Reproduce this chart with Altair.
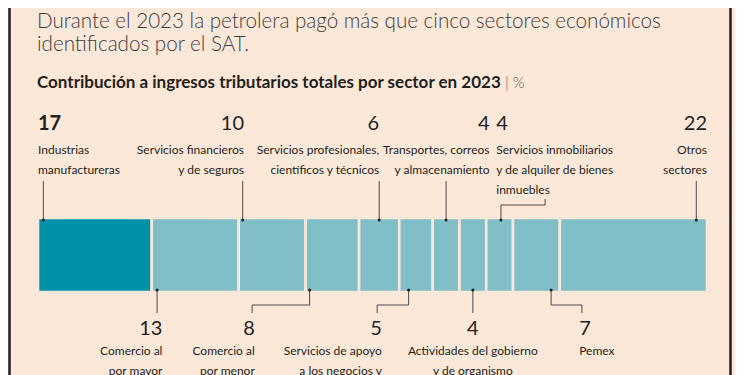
import altair as alt
import pandas as pd
import numpy as np

# ---------------- data ----------------
sectors = [
    "Industrias manufactureras",
    "Comercio al por mayor",
    "Servicios financieros y de seguros",
    "Comercio al por menor",
    "Servicios profesionales, científicos y técnicos",
    "Servicios de apoyo a los negocios y",
    "Transportes, correos y almacenamiento",
    "Actividades del gobierno y de organismo",
    "Servicios inmobiliarios y de alquiler de bienes inmuebles",
    "Pemex",
    "Otros sectores",
]
values = [17, 13, 10, 8, 6, 5, 4, 4, 4, 7, 22]
name_lines = [
    ["Industrias", "manufactureras"],
    ["Comercio al", "por mayor"],
    ["Servicios financieros", "y de seguros"],
    ["Comercio al", "por menor"],
    ["Servicios profesionales,", "científicos y técnicos"],
    ["Servicios de apoyo", "a los negocios y"],
    ["Transportes, correos", "y almacenamiento"],
    ["Actividades del gobierno", "y de organismo"],
    ["Servicios inmobiliarios", "y de alquiler de bienes", "inmuebles"],
    ["Pemex"],
    ["Otros", "sectores"],
]
title_lines = [
    "Durante el 2023 la petrolera pagó más que cinco sectores económicos",
    "identificados por el SAT.",
]
subtitle = "Contribución a ingresos tributarios totales por sector en 2023"
unit = "|  %"

# ---------------- layout ----------------
W, H = 727, 367
BG = "#FCE8D9"
DARK = "#0090A8"
LIGHT = "#80BEC8"
INK = "#231F20"
LEAD = "#4a4a4a"
LABF = "Lato, 'Liberation Sans', sans-serif"
TITLEF = "Lato, 'Liberation Sans', sans-serif"

side = ["top", "bottom", "top", "bottom", "top", "bottom", "top", "bottom", "top", "bottom", "top"]
anchor_off = [0.8, 0.8, 0.6, 0.6, 3.0, 1.4, 2.0, 2.0, 2.2, 5.7, 20.4]
elbow_x = [None, None, None, 32.0, None, 50.7, None, None, 75.8, 81.3, None]
text_x = [0.0, 18.6, 30.8, 32.4, 51.0, 51.4, 67.5, 65.0, 68.5, 80.9, 100.0]
text_align = ["left", "right", "right", "right", "right", "right", "right", "center", "left", "left", "right"]

BAR_TOP, BAR_BOT = 210, 284
TOP_NUM, TOP_NAME, TOP_LEAD = 122, 146, 173
BOT_NUM, BOT_NAME, BOT_LEAD_END, BOT_ELBOW = 327, 347, 305, 297
INMO_ELBOW, INMO_END = 197, 191

starts = np.concatenate([[0], np.cumsum(values)[:-1]])
ends = np.cumsum(values)

bar_df = pd.DataFrame({
    "sector": sectors,
    "start": starts,
    "end": ends,
    "tone": ["dark"] + ["light"] * (len(values) - 1),
})

anchors = [float(s + o) for s, o in zip(starts, anchor_off)]

seg_rows = []
dot_rows = []
for i in range(len(sectors)):
    a = anchors[i]
    e = elbow_x[i]
    if side[i] == "top":
        dot_rows.append({"x": a, "y": BAR_TOP + 2})
        if e is None:
            seg_rows.append({"x": a, "x2": a, "y": TOP_LEAD, "y2": BAR_TOP + 2})
        else:
            seg_rows.append({"x": a, "x2": a, "y": INMO_ELBOW, "y2": BAR_TOP + 2})
            seg_rows.append({"x": a, "x2": e, "y": INMO_ELBOW, "y2": INMO_ELBOW})
            seg_rows.append({"x": e, "x2": e, "y": INMO_END, "y2": INMO_ELBOW})
    else:
        dot_rows.append({"x": a, "y": BAR_BOT - 2})
        if e is None:
            seg_rows.append({"x": a, "x2": a, "y": BAR_BOT - 2, "y2": BOT_LEAD_END})
        else:
            seg_rows.append({"x": a, "x2": a, "y": BAR_BOT - 2, "y2": BOT_ELBOW})
            seg_rows.append({"x": e, "x2": a, "y": BOT_ELBOW, "y2": BOT_ELBOW})
            seg_rows.append({"x": e, "x2": e, "y": BOT_ELBOW, "y2": BOT_LEAD_END})
seg_df = pd.DataFrame(seg_rows)
dot_df = pd.DataFrame(dot_rows)

lab_df = pd.DataFrame({
    "sector": sectors,
    "num": [str(v) for v in values],
    "name": name_lines,
    "tx": text_x,
    "align": text_align,
    "side": side,
    "ny": [TOP_NUM if s == "top" else BOT_NUM for s in side],
    "my": [TOP_NAME if s == "top" else BOT_NAME for s in side],
    "bold": [i == 0 for i in range(len(sectors))],
})

xs = alt.Scale(domain=[0, 100], range=[30, 699], nice=False, zero=False)
ys = alt.Scale(domain=[0, H], range=[0, H], nice=False, zero=False)

layers = []

# frame borders
layers.append(alt.Chart(pd.DataFrame({"k": [0]})).mark_rule(color=INK, strokeWidth=2.5).encode(
    x=alt.value(1.5), y=alt.value(0), y2=alt.value(H)))
layers.append(alt.Chart(pd.DataFrame({"k": [0]})).mark_rule(color=INK, strokeWidth=2.5).encode(
    x=alt.value(722.5), y=alt.value(0), y2=alt.value(H)))

# titles
layers.append(alt.Chart(pd.DataFrame({"t": [title_lines]})).mark_text(
    align="left", baseline="alphabetic", font=TITLEF, fontSize=20.6, fontWeight=300,
    color="#3c3c3c", lineHeight=23).encode(
    x=alt.value(29), y=alt.value(20), text="t:N"))
layers.append(alt.Chart(pd.DataFrame({"t": [subtitle]})).mark_text(
    align="left", baseline="alphabetic", font=LABF, fontSize=17, fontWeight="bold",
    color=INK).encode(x=alt.value(29), y=alt.value(80), text="t:N"))
layers.append(alt.Chart(pd.DataFrame({"t": [unit]})).mark_text(
    align="left", baseline="alphabetic", font=LABF, fontSize=15, fontWeight=300,
    color="#555555").encode(x=alt.value(497), y=alt.value(80), text="t:N"))

# bars
layers.append(alt.Chart(bar_df).mark_bar(stroke=BG, strokeWidth=2.6).encode(
    x=alt.X("start:Q", scale=xs, axis=None),
    x2="end:Q",
    y=alt.value(BAR_TOP), y2=alt.value(BAR_BOT),
    color=alt.Color("tone:N", scale=alt.Scale(domain=["dark", "light"], range=[DARK, LIGHT]), legend=None),
))

# leaders
layers.append(alt.Chart(seg_df).mark_rule(color=LEAD, strokeWidth=1).encode(
    x=alt.X("x:Q", scale=xs, axis=None), x2="x2:Q",
    y=alt.Y("y:Q", scale=ys, axis=None), y2="y2:Q"))
layers.append(alt.Chart(dot_df).mark_circle(color="#222222", size=9, opacity=1).encode(
    x=alt.X("x:Q", scale=xs, axis=None), y=alt.Y("y:Q", scale=ys, axis=None)))

# labels
for al in ["left", "right", "center"]:
    sub = lab_df[lab_df["align"] == al]
    if len(sub) == 0:
        continue
    for b in [True, False]:
        s2 = sub[sub["bold"] == b]
        if len(s2) == 0:
            continue
        layers.append(alt.Chart(s2).mark_text(
            align=al, baseline="alphabetic", font=LABF, fontSize=20,
            fontWeight="bold" if b else "normal", color=INK).encode(
            x=alt.X("tx:Q", scale=xs, axis=None), y=alt.Y("ny:Q", scale=ys, axis=None), text="num:N"))
    layers.append(alt.Chart(sub).mark_text(
        align=al, baseline="alphabetic", font=LABF, fontSize=12, lineHeight=20,
        color=INK).encode(
        x=alt.X("tx:Q", scale=xs, axis=None), y=alt.Y("my:Q", scale=ys, axis=None), text="name:N"))

chart = alt.layer(*layers).properties(
    width=W, height=H, padding=0, background=BG,
    autosize=alt.AutoSizeParams(type="none"),
).configure_view(stroke=None)

chart.save("out.html", embed_options={"renderer": "svg", "actions": False})
